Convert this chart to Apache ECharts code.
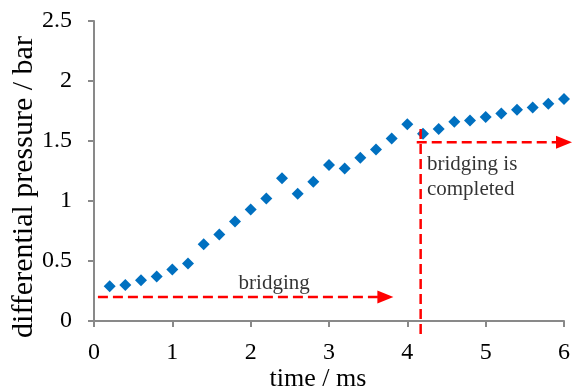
<!DOCTYPE html>
<html>
<head>
<meta charset="utf-8">
<script src="https://cdn.jsdelivr.net/npm/echarts@6/dist/echarts.min.js"></script>
<style>
  html, body { margin: 0; padding: 0; background: #fff; }
  #chart { width: 573px; height: 389px; }
</style>
</head>
<body>
<div id="chart"></div>
<script>
// measured points (time in ms, differential pressure in bar)
const times = [0.2, 0.4, 0.6, 0.8, 1.0, 1.2, 1.4, 1.6, 1.8, 2.0,
  2.2, 2.4, 2.6, 2.8, 3.0, 3.2, 3.4, 3.6, 3.8, 4.0,
  4.2, 4.4, 4.6, 4.8, 5.0, 5.2, 5.4, 5.6, 5.8, 6.0];
const pressure = [0.29, 0.30, 0.34, 0.37, 0.43, 0.48, 0.64, 0.72, 0.83, 0.93,
  1.02, 1.19, 1.06, 1.16, 1.30, 1.27, 1.36, 1.43, 1.52, 1.64,
  1.56, 1.60, 1.66, 1.67, 1.70, 1.73, 1.76, 1.78, 1.81, 1.85];

// dashed annotation segments, in data units
const bridgingArrow = [[0.05, 0.2], [3.75, 0.2]];
const completedDrop = [[4.17, 1.6], [4.17, -0.12]];
const completedArrow = [[4.12, 1.49], [5.95, 1.49]];
// arrowhead centres
const arrowHeads = [[3.72, 0.2], [6.0, 1.49]];
// annotation texts
const noteTexts = ['bridging', 'bridging is\ncompleted'];
const notePos = [[2.3, 0.31], [4.25, 1.2]];

const xTicks = { min: 0, max: 6, step: 1 };
const yTicks = { min: 0, max: 2.5, step: 0.5 };

const serif = 'Liberation Serif';
const axisGrey = '#898989';
const red = '#FF0000';

let chart = echarts.init(document.getElementById('chart'));

// one dashed line series per segment
const segmentSeries = [bridgingArrow, completedDrop, completedArrow].map((seg) => ({
  type: 'line',
  clip: false,
  silent: true,
  symbol: 'none',
  lineStyle: { color: red, width: 2.5, type: [10, 5] },
  data: seg
}));

const option = {
  animation: false,
  grid: { left: 94, right: 9, top: 21, bottom: 68, containLabel: false, outerBoundsMode: 'none' },
  xAxis: {
    type: 'value',
    min: xTicks.min, max: xTicks.max, interval: xTicks.step,
    name: 'time / ms',
    nameLocation: 'middle',
    nameGap: 45,
    nameMoveOverlap: false,
    nameTextStyle: { fontFamily: serif, fontSize: 26, color: '#000', padding: [0, 22, 0, 0] },
    splitLine: { show: false },
    axisLine: { lineStyle: { color: axisGrey, width: 2 } },
    axisTick: { length: 6, lineStyle: { color: axisGrey, width: 2 } },
    axisLabel: { fontFamily: serif, fontSize: 24, color: '#000', margin: 20 }
  },
  yAxis: {
    type: 'value',
    min: yTicks.min, max: yTicks.max, interval: yTicks.step,
    name: 'differential pressure / bar',
    nameLocation: 'middle',
    nameGap: 55,
    nameMoveOverlap: false,
    nameTextStyle: { fontFamily: serif, fontSize: 30, color: '#000', padding: [0, 32, 0, 0] },
    splitLine: { show: false },
    axisLine: { show: true, lineStyle: { color: axisGrey, width: 2 } },
    axisTick: { show: true, length: 6, lineStyle: { color: axisGrey, width: 2 } },
    axisLabel: { fontFamily: serif, fontSize: 24, color: '#000', margin: 22 }
  },
  series: [
    {
      name: 'pressure',
      type: 'scatter',
      symbol: 'diamond',
      symbolSize: 12,
      itemStyle: { color: '#0070C0', opacity: 1 },
      data: times.map((t, i) => [t, pressure[i]])
    },
    ...segmentSeries,
    {
      type: 'scatter',
      clip: false,
      silent: true,
      symbol: 'triangle',
      symbolRotate: -90,
      symbolSize: [13, 16],
      itemStyle: { color: red, opacity: 1 },
      data: arrowHeads
    },
    {
      name: 'texts',
      type: 'scatter',
      symbolSize: 0,
      silent: true,
      data: notePos.map((p, i) => ({
        value: [p[0], p[1], noteTexts[i]],
        label: { align: i === 0 ? 'center' : 'left' }
      })),
      label: {
        show: true,
        position: 'inside',
        formatter: (p) => p.value[2],
        fontFamily: serif,
        fontSize: 21,
        lineHeight: 25,
        color: '#000'
      }
    }
  ]
};

chart.setOption(option);
</script>
</body>
</html>
